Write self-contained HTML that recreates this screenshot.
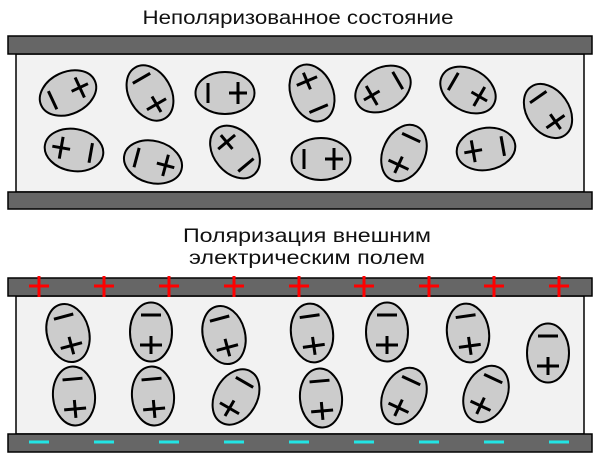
<!DOCTYPE html>
<html><head><meta charset="utf-8"><style>
html,body{margin:0;padding:0;background:#fff;}
svg{display:block;}
text{font-family:"Liberation Sans",sans-serif;fill:#111;}
</style></head><body>
<svg width="600" height="458" viewBox="0 0 600 458" xmlns="http://www.w3.org/2000/svg">
<defs>
<g id="m">
<ellipse cx="0" cy="0" rx="21" ry="29.5" fill="#cccccc" stroke="#000" stroke-width="2"/>
<g stroke="#000" stroke-width="3" fill="none">
<line x1="-10" y1="-17" x2="10" y2="-17"/>
<line x1="-11" y1="13" x2="11" y2="13"/>
<line x1="0" y1="4" x2="0" y2="22"/>
</g>
</g>
</defs>
<text x="298" y="24" font-size="19" text-anchor="middle" textLength="311" lengthAdjust="spacingAndGlyphs">Неполяризованное состояние</text>
<text x="307" y="242" font-size="19" text-anchor="middle" textLength="248" lengthAdjust="spacingAndGlyphs">Поляризация внешним</text>
<text x="307" y="264" font-size="19" text-anchor="middle" textLength="236" lengthAdjust="spacingAndGlyphs">электрическим полем</text>

<!-- panel 1 -->
<rect x="16" y="54" width="568" height="138" fill="#f2f2f2" stroke="#000" stroke-width="1.5"/>
<rect x="8" y="36" width="584" height="18" fill="#666" stroke="#000" stroke-width="1.5"/>
<rect x="8" y="192" width="584" height="17" fill="#666" stroke="#000" stroke-width="1.5"/>
<use href="#m" transform="translate(68,93) rotate(-115)"/>
<use href="#m" transform="translate(150,93) rotate(-30)"/>
<use href="#m" transform="translate(225,93) rotate(-90)"/>
<use href="#m" transform="translate(312,93) rotate(157)"/>
<use href="#m" transform="translate(383,89) rotate(60)"/>
<use href="#m" transform="translate(468,90) rotate(-60)"/>
<use href="#m" transform="translate(548,111) rotate(-35)"/>
<use href="#m" transform="translate(74,150) rotate(100)"/>
<use href="#m" transform="translate(153,162) rotate(-75)"/>
<use href="#m" transform="translate(235,152) rotate(140)"/>
<use href="#m" transform="translate(321,159) rotate(-90)"/>
<use href="#m" transform="translate(404,153) rotate(25)"/>
<use href="#m" transform="translate(486,149) rotate(80)"/>

<!-- panel 2 -->
<rect x="16" y="296" width="568" height="138" fill="#f2f2f2" stroke="#000" stroke-width="1.5"/>
<rect x="8" y="278" width="584" height="18" fill="#666" stroke="#000" stroke-width="1.5"/>
<rect x="8" y="434" width="584" height="18" fill="#666" stroke="#000" stroke-width="1.5"/>
<g stroke="#ff0000" stroke-width="3">
<path d="M29 286H49M39 276V297 M94 286H114M104 276V297 M159 286H179M169 276V297 M224 286H244M234 276V297 M289 286H309M299 276V297 M354 286H374M364 276V297 M419 286H439M429 276V297 M484 286H504M494 276V297 M549 286H569M559 276V297"/>
</g>
<g stroke="#22e5e5" stroke-width="3">
<path d="M29 442H49 M94 442H114 M159 442H179 M224 442H244 M289 442H309 M354 442H374 M419 442H439 M484 442H504 M549 442H569"/>
</g>
<use href="#m" transform="translate(68,333) rotate(-15)"/>
<use href="#m" transform="translate(151,332)"/>
<use href="#m" transform="translate(224,335) rotate(-15)"/>
<use href="#m" transform="translate(312,333) rotate(-8)"/>
<use href="#m" transform="translate(387,332)"/>
<use href="#m" transform="translate(468,333) rotate(-8)"/>
<use href="#m" transform="translate(548,353)"/>
<use href="#m" transform="translate(74,396) rotate(-5)"/>
<use href="#m" transform="translate(153,396) rotate(-5)"/>
<use href="#m" transform="translate(236,397) rotate(30)"/>
<use href="#m" transform="translate(321,398) rotate(-5)"/>
<use href="#m" transform="translate(404,396) rotate(25)"/>
<use href="#m" transform="translate(486,394) rotate(25)"/>
</svg>
</body></html>
